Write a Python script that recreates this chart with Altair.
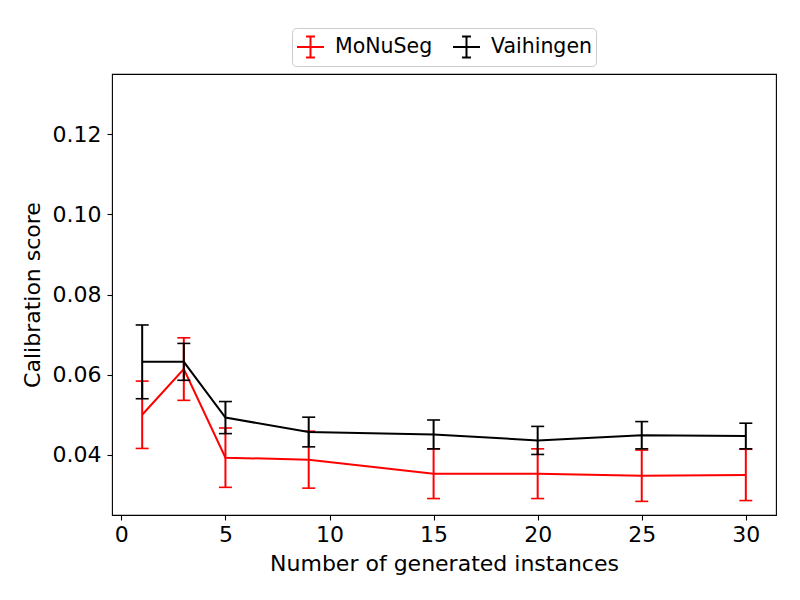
import altair as alt
import pandas as pd

FONT = "DejaVu Sans"

series_names = ["MoNuSeg", "Vaihingen"]
series_colors = ["#ff0000", "#000000"]
instances = [1, 3, 5, 9, 15, 20, 25, 30]
monuseg_mean = [0.0500, 0.0614, 0.0393, 0.0388, 0.0353, 0.0353, 0.0348, 0.0350]
monuseg_err = [0.0084, 0.0078, 0.0074, 0.0071, 0.0062, 0.0062, 0.0064, 0.0064]
vaihingen_mean = [0.0632, 0.0632, 0.0493, 0.0457, 0.0451, 0.0436, 0.0449, 0.0447]
vaihingen_err = [0.0092, 0.0046, 0.0040, 0.0037, 0.0036, 0.0035, 0.0034, 0.0032]
x_ticks = [0, 5, 10, 15, 20, 25, 30]
y_ticks = [0.04, 0.06, 0.08, 0.10, 0.12]

rows = []
for name, means, errs in [("MoNuSeg", monuseg_mean, monuseg_err),
                          ("Vaihingen", vaihingen_mean, vaihingen_err)]:
    for xv, m, e in zip(instances, means, errs):
        rows.append({"series": name, "n": xv, "score": m, "lo": m - e, "hi": m + e})
df = pd.DataFrame(rows)

x_scale = alt.Scale(domain=[-0.45, 31.45], nice=False, zero=False)
y_scale = alt.Scale(domain=[0.025, 0.135], nice=False, zero=False)
color_scale = alt.Scale(domain=series_names, range=series_colors)

x_axis = alt.Axis(title="Number of generated instances", values=x_ticks, format="d",
                  labelPadding=4, titlePadding=8)
y_axis = alt.Axis(title="Calibration score", values=y_ticks, format=".2f",
                  labelPadding=6, titlePadding=8)

legend = alt.Legend(
    title=None, orient="none", legendX=180, legendY=-46, direction="horizontal",
    symbolType="M-1,0H1M0,-0.78V0.78M-0.33,-0.78H0.33M-0.33,0.78H0.33",
    symbolSize=729, symbolStrokeWidth=2, symbolFillColor="transparent",
    symbolOpacity=1,
    labelFont=FONT, labelFontSize=20.5, labelColor="black", labelOffset=10,
    columnPadding=16, padding=4, strokeColor="#cccccc", fillColor="white",
    cornerRadius=4,
)

X = alt.X("n:Q", scale=x_scale, axis=x_axis)
C = alt.Color("series:N", scale=color_scale, legend=legend)


def series_layers(name):
    base = alt.Chart(df).transform_filter(alt.datum.series == name)
    line = base.mark_line(strokeWidth=2, opacity=1).encode(
        x=X, y=alt.Y("score:Q", scale=y_scale, axis=y_axis), color=C)
    bars = base.mark_rule(strokeWidth=2, opacity=1).encode(
        x=X, y=alt.Y("lo:Q", scale=y_scale, axis=y_axis), y2="hi:Q", color=C)
    cap_lo = base.mark_tick(orient="horizontal", size=13, thickness=1.6, opacity=1).encode(
        x=X, y=alt.Y("lo:Q", scale=y_scale, axis=y_axis), color=C)
    cap_hi = base.mark_tick(orient="horizontal", size=13, thickness=1.6, opacity=1).encode(
        x=X, y=alt.Y("hi:Q", scale=y_scale, axis=y_axis), color=C)
    return [line, bars, cap_lo, cap_hi]


chart = alt.layer(*series_layers("MoNuSeg"), *series_layers("Vaihingen")).properties(
    width=664, height=441,
    autosize=alt.AutoSizeParams(type="none"),
    padding={"left": 104, "top": 66, "right": 16, "bottom": 77},
    background="white",
).configure_view(
    stroke="black", strokeWidth=1.1
).configure_axis(
    grid=False, domain=False, tickColor="black", tickSize=5, tickWidth=1.1,
    labelFont=FONT, labelFontSize=22, labelColor="black",
    titleFont=FONT, titleFontSize=22, titleColor="black", titleFontWeight="normal",
)

chart.save("out.html", embed_options={"renderer": "svg", "actions": False})
